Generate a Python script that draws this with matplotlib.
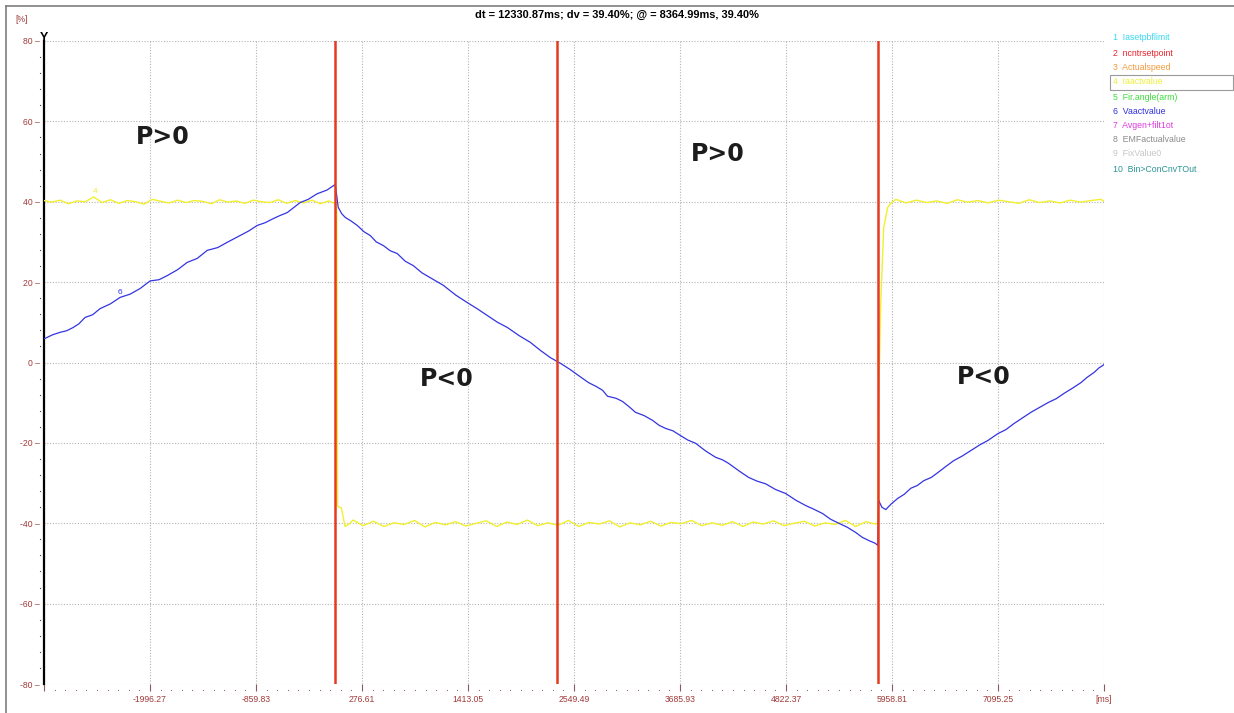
#!/usr/bin/env python3
# -*- coding: utf-8 -*-

import numpy as np
import matplotlib
matplotlib.use("Agg")
import matplotlib.pyplot as plt
import matplotlib.transforms as mtransforms
from matplotlib.lines import Line2D
from matplotlib.patches import Rectangle

plt.rcParams["font.family"] = ["Liberation Sans", "DejaVu Sans"]

# ---------------------------
# Dados
# ---------------------------
X_MIN, X_MAX = -3132.71, 8231.69
X_TICKS = [-3132.71, -1996.27, -859.83, 276.61, 1413.05, 2549.49,
           3685.93, 4822.37, 5958.81, 7095.25, 8231.69]
X_LABELS = ["", "-1996.27", "-859.83", "276.61", "1413.05", "2549.49",
            "3685.93", "4822.37", "5958.81", "7095.25", "[ms]"]
Y_TICKS = [80, 60, 40, 20, 0, -20, -40, -60, -80]

CURSORS_MS = [-10, 2372, 5806]

# 6 Vaactvalue (azul)
blue_t = [-3133, -3122, -3040, -2961, -2890, -2821, -2760, -2693, -2610, -2532,
          -2420, -2317, -2210, -2103, -1995, -1900, -1813, -1700, -1598, -1490,
          -1383, -1270, -1169, -1029, -940, -847, -760, -675, -600, -525,
          -386, -300, -203, -100, -10,
          22, 60, 97, 160, 226, 300, 365, 430, 505, 580, 655, 740, 827, 920,
          1009, 1149, 1280, 1406, 1510, 1621, 1730, 1836, 1960, 2082, 2190,
          2297, 2404, 2512, 2565, 2705, 2790, 2855, 2909, 3000, 3070, 3140,
          3209, 3300, 3392, 3460, 3531, 3610, 3692, 3770, 3853, 3960, 4068,
          4140, 4207, 4320, 4422, 4510, 4605, 4710, 4819, 4930, 5034, 5120,
          5216, 5300, 5388, 5480, 5570, 5640, 5710, 5780, 5806,
          5815, 5850, 5892, 5950, 6021, 6090, 6160, 6230, 6300, 6380, 6450,
          6540, 6622, 6710, 6804, 6900, 6987, 7094, 7180, 7266, 7350, 7448,
          7540, 7630, 7720, 7802, 7900, 7985, 8050, 8124, 8180, 8221, 8232]
blue_v = [5.9, 6.0, 6.9, 7.5, 7.9, 8.7, 9.6, 11.2, 11.9, 13.4,
          14.6, 16.2, 17.0, 18.4, 20.3, 20.6, 21.6, 23.1, 24.9, 25.9,
          27.9, 28.6, 29.9, 31.6, 32.7, 34.1, 34.8, 35.8, 36.6, 37.3,
          39.8, 40.6, 42.0, 42.9, 44.3,
          38.6, 37.0, 36.1, 35.2, 34.1, 32.5, 31.6, 30.0, 29.1, 27.8, 27.1, 25.2, 24.1, 22.3,
          21.1, 19.2, 16.8, 14.9, 13.4, 11.7, 10.0, 8.7, 6.7, 5.0, 3.0,
          1.2, -0.2, -1.8, -2.7, -5.0, -6.0, -6.9, -8.4, -8.9, -9.7, -11.0,
          -12.4, -13.2, -14.4, -15.6, -16.4, -17.0, -18.2, -19.3, -20.1, -22.0, -23.6,
          -24.2, -25.1, -27.0, -28.6, -29.5, -30.2, -31.6, -32.6, -34.3, -35.6, -36.5,
          -37.6, -39.0, -40.0, -41.0, -42.3, -43.5, -44.3, -45.0, -45.5,
          -34.3, -36.0, -36.6, -35.2, -33.8, -32.8, -31.3, -30.6, -29.4, -28.6, -27.4,
          -25.8, -24.4, -23.3, -21.9, -20.5, -19.4, -17.7, -16.7, -15.2, -13.9, -12.4,
          -11.2, -10.0, -9.0, -7.7, -6.3, -5.0, -3.7, -2.5, -1.3, -0.7, -0.5]

# 4 Iaactvalue (amarelo)
yellow_t = [-3133, -3050, -2960, -2870, -2780, -2690, -2600, -2510, -2420, -2330,
            -2240, -2150, -2060, -1970, -1880, -1790, -1700, -1610, -1520, -1430,
            -1340, -1250, -1160, -1070, -980, -890, -800, -710, -620, -530,
            -440, -350, -260, -170, -80, -30, 5,
            15, 55, 95, 140,
            180, 290, 400, 510, 620, 730, 840, 950, 1060, 1170, 1280, 1390, 1500,
            1610, 1720, 1830, 1940, 2050, 2160, 2270, 2380, 2490, 2600, 2710, 2820,
            2930, 3040, 3150, 3260, 3370, 3480, 3590, 3700, 3810, 3920, 4030, 4140,
            4250, 4360, 4470, 4580, 4690, 4800, 4910, 5020, 5130, 5240, 5350, 5460,
            5570, 5680, 5780,
            5806, 5812, 5838, 5870, 5913, 5945, 6000,
            6110, 6220, 6330, 6440, 6550, 6660, 6770, 6880, 6990, 7100, 7210, 7320,
            7430, 7540, 7650, 7760, 7870, 7980, 8090, 8200, 8232]
yellow_v = [40.3, 39.9, 40.4, 39.5, 40.2, 40.0, 41.2, 39.8, 40.5, 39.6,
            40.3, 40.0, 39.4, 40.6, 40.1, 39.7, 40.4, 39.8, 40.3, 40.1,
            39.5, 40.5, 39.9, 40.2, 39.6, 40.4, 40.0, 39.8, 40.5, 39.6,
            40.3, 39.7, 40.4, 39.5, 40.2, 39.7, 39.8,
            -35.8, -36.2, -40.8, -40.2,
            -39.2, -40.6, -39.5, -40.8, -39.9, -40.3, -39.3, -40.9, -39.8, -40.4, -39.6, -40.7, -40.0,
            -39.4, -40.8, -39.7, -40.3, -39.2, -40.6, -39.9, -40.5, -39.3, -40.8, -39.8, -40.2,
            -39.4, -40.9, -39.9, -40.4, -39.5, -40.7, -39.8, -40.1, -39.3, -40.6, -39.9, -40.5,
            -39.6, -40.8, -39.7, -40.2, -39.4, -40.6, -40.0, -39.5, -40.7, -39.9, -40.3, -39.3,
            -40.8, -39.6, -40.2,
            -40.0, -13.0, 14.7, 33.6, 38.6, 39.6, 40.6,
            39.7, 40.4, 39.8, 40.2, 39.6, 40.5, 39.9, 40.3, 39.7, 40.4, 40.0, 39.6,
            40.5, 39.8, 40.2, 39.7, 40.4, 39.9, 40.3, 40.6, 40.1]

# Legenda dos canais
CHANNELS = ["Iasetpbflimit", "ncntrsetpoint", "Actualspeed", "Iaactvalue",
            "Fir.angle(arm)", "Vaactvalue", "Avgen+filt1ot", "EMFactualvalue",
            "FixValue0", "Bin>ConCnvTOut"]
CHANNEL_COLORS = ["#3ad8ee", "#e8232b", "#f29a3c", "#eeee3a", "#3ddc3d",
                  "#2f2fe0", "#e03ae0", "#8c8c8c", "#c6c6c6", "#2a9595"]

# Anotações
REGIONS = [("P>0", -1856, 56), ("P>0", 4089, 52), ("P<0", 1181, -4), ("P<0", 6944, -3.7)]

AXIS_RED = "#a03a3a"
W, H = 1234, 713

# ---------------------------
# Figura
# ---------------------------
fig = plt.figure(figsize=(W / 100, H / 100), dpi=100)
ax = fig.add_axes([44 / W, 29 / H, 1060 / W, 643 / H])
ax.set_xlim(X_MIN, X_MAX)
ax.set_ylim(-80, 80)

ax.set_xticks(X_TICKS)
ax.set_xticklabels(X_LABELS, color=AXIS_RED, fontsize=6.2)
ax.set_yticks(Y_TICKS)
ax.set_yticklabels([f"{v} \u2013" for v in Y_TICKS], color=AXIS_RED, fontsize=6.2)
ax.tick_params(axis="x", direction="out", length=5, width=0.8, color="#8a5a5a", pad=3)
ax.tick_params(axis="y", length=0, pad=3)
ax.grid(True, color="#b4b4b4", linestyle=(0, (1, 1.5)), linewidth=0.8)
ax.set_axisbelow(True)

for s in ["top", "right", "bottom"]:
    ax.spines[s].set_visible(False)
ax.spines["left"].set_color("black")
ax.spines["left"].set_linewidth(1.6)

# pontinhos das subdivisões
tr_y = mtransforms.blended_transform_factory(ax.transAxes, ax.transData)
y_minor = [v for v in np.arange(-80, 81, 4) if v % 20 != 0]
ax.plot([-4 / 1060] * len(y_minor), y_minor, ls="", marker="s", ms=0.8, mew=0,
        color="#6a3a3a", transform=tr_y, clip_on=False)
tr_x = mtransforms.blended_transform_factory(ax.transData, ax.transAxes)
step = (X_TICKS[1] - X_TICKS[0]) / 10
x_minor = [X_MIN + i * step for i in range(101) if i % 10 != 0]
ax.plot(x_minor, [-6 / 643] * len(x_minor), ls="", marker="s", ms=0.8, mew=0,
        color="#9a7070", transform=tr_x, clip_on=False)

# séries
ax.plot(yellow_t, yellow_v, color="#f2ef2e", lw=1.0, zorder=3)
ax.plot(blue_t, blue_v, color="#3434e2", lw=0.9, zorder=4)
for c in CURSORS_MS:
    ax.axvline(c, color="#e63a1e", lw=1.8, zorder=5)

# rótulos de canal sobre as curvas
ax.text(-2585, 42.5, "4", color="#eeee3a", fontsize=6, ha="center", va="center")
ax.text(-2317, 17.5, "6", color="#3434e2", fontsize=6, ha="center", va="center")

for txt, x, y in REGIONS:
    ax.text(x, y, txt, fontsize=17, fontweight="bold", family="DejaVu Sans",
            color="#1c1c1c", ha="center", va="center")

# seta do eixo Y
ax.annotate("Y", xy=(0, 1), xycoords="axes fraction", xytext=(0, 2.5),
            textcoords="offset points", ha="center", va="center",
            fontsize=9, fontweight="bold")

# textos da janela
fig.text(617 / W, 1 - 15 / H, "dt = 12330.87ms; dv = 39.40%; @ = 8364.99ms, 39.40%",
         ha="center", va="center", fontsize=7.9, fontweight="bold")
fig.text(22 / W, 1 - 20 / H, "[%]", ha="center", va="center", fontsize=6.2, color=AXIS_RED)

# legenda à direita
leg_y = [37, 53, 68, 82, 97, 111, 126, 140, 154, 170]
fig.patches.append(Rectangle((1110 / W, 1 - 90 / H), 123 / W, 15 / H,
                             transform=fig.transFigure, facecolor="white",
                             edgecolor="#9a9a9a", lw=0.8))
for i, (name, col) in enumerate(zip(CHANNELS, CHANNEL_COLORS)):
    fig.text(1113 / W, 1 - leg_y[i] / H, f"{i + 1}  {name}", color=col,
             fontsize=6.3, ha="left", va="center")

# moldura
fig.lines.append(Line2D([6 / W, 6 / W], [0, 1 - 6 / H], transform=fig.transFigure,
                        color="#7f7f7f", lw=1.2))
fig.lines.append(Line2D([6 / W, 1], [1 - 6 / H, 1 - 6 / H], transform=fig.transFigure,
                        color="#7f7f7f", lw=1.2))

fig.savefig("out.png", dpi=100)
